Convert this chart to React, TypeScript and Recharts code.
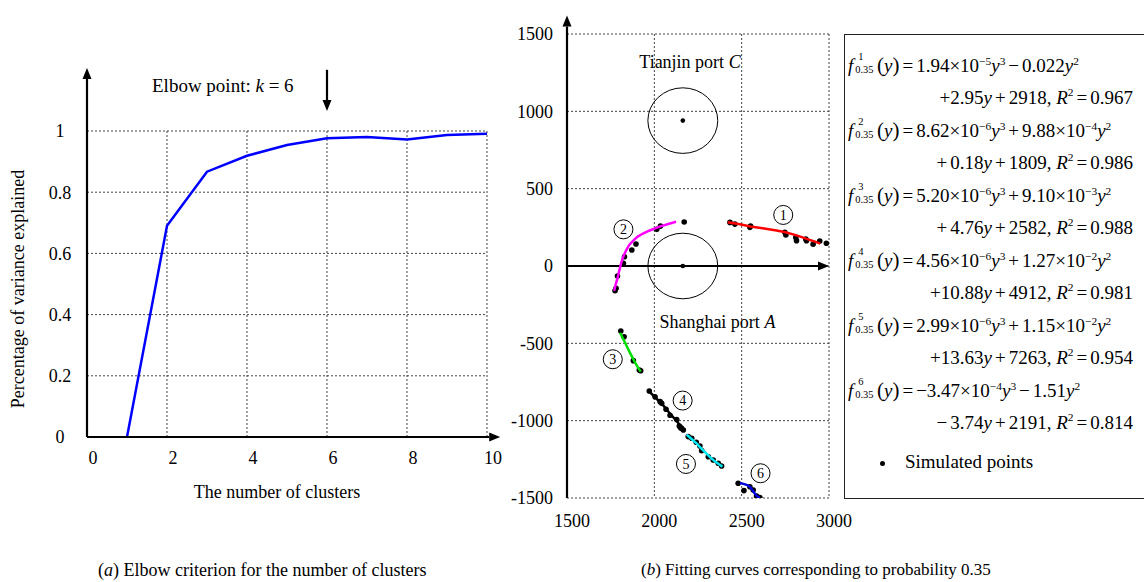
import React from 'react';
import {
  CartesianGrid,
  ComposedChart,
  Line,
  ReferenceLine,
  Scatter,
  XAxis,
  YAxis,
} from 'recharts';

const FONT = '"Liberation Serif", "Times New Roman", serif';

/* ---------- (a) elbow data ---------- */
const clusterCounts = [1, 2, 3, 4, 5, 6, 7, 8, 9, 10];
const varianceExplained = [0, 0.69, 0.867, 0.919, 0.954, 0.976, 0.98, 0.972, 0.987, 0.991];
const elbowTicksX = [0, 2, 4, 6, 8, 10];
const elbowTicksY = [0, 0.2, 0.4, 0.6, 0.8, 1];

/* ---------- (b) fitting data ---------- */
const fitTicksX = [1500, 2000, 2500, 3000];
const fitTicksY = [-1500, -1000, -500, 0, 500, 1000, 1500];

const portX = [2163, 2163];
const portY = [940, 0];
const portNames = ['Tianjin port ', 'Shanghai port '];
const portLetters = ['C', 'A'];
const portLabelX = [2204, 2361];
const portLabelY = [1321, -360];

const points1 = [[2433, 282], [2461, 271], [2547, 250], [2551, 259], [2747, 218], [2753, 200], [2810, 185], [2814, 164], [2867, 175], [2871, 164], [2909, 141], [2947, 162], [2985, 147]];
const points2 = [[2171, 284], [2035, 258], [2014, 237], [1895, 142], [1871, 103], [1829, 60], [1823, 17], [1789, -65], [1781, -144], [1775, -160]];
const points3 = [[1808, -420], [1827, -457], [1880, -612], [1914, -672], [1922, -677]];
const points4 = [[1971, -808], [2004, -845], [2033, -877], [2042, -888], [2067, -926], [2090, -965], [2128, -992], [2143, -1034], [2150, -1045], [2156, -1049], [2166, -1060]];
const points5 = [[2194, -1103], [2214, -1114], [2240, -1140], [2261, -1164], [2271, -1194], [2309, -1233], [2337, -1254], [2366, -1275], [2385, -1293]];
const points6 = [[2480, -1405], [2513, -1452], [2547, -1427], [2566, -1448], [2585, -1487], [2604, -1497]];

const curve1 = [[2420, 283], [2490, 270], [2550, 256], [2620, 244], [2700, 230], [2750, 218], [2800, 203], [2840, 188], [2880, 172], [2920, 158], [2950, 145]];
const curve2 = [[1770, -160], [1780, -115], [1790, -75], [1798, -35], [1806, 0], [1815, 38], [1825, 68], [1838, 100], [1855, 135], [1878, 163], [1905, 190], [1935, 210], [1970, 228], [2030, 255], [2080, 272], [2124, 286]];
const curve3 = [[1804, -431], [1816, -460], [1830, -490], [1845, -525], [1860, -560], [1875, -592], [1890, -625], [1906, -655], [1922, -683]];
const curve4 = [[1970, -810], [2010, -855], [2050, -900], [2090, -955], [2130, -1005], [2165, -1055]];
const curve5 = [[2185, -1090], [2210, -1115], [2240, -1145], [2270, -1180], [2300, -1215], [2325, -1242], [2350, -1265], [2370, -1282], [2390, -1297]];
const curve6 = [[2490, -1405], [2505, -1407], [2520, -1412], [2535, -1418], [2545, -1425], [2555, -1438], [2565, -1455], [2575, -1471], [2585, -1485], [2595, -1493], [2604, -1498]];
const curveColors = ['#ff0000', '#ff00ff', '#00dd00', '#000000', '#00e8f0', '#0000dd'];

const clusterLabels = ['1', '2', '3', '4', '5', '6'];
const clusterLabelX = [2738, 1823, 1762, 2162, 2181, 2608];
const clusterLabelY = [330, 237, -603, -870, -1280, -1340];

const toXY = (pts: number[][]) => pts.map(([x, y]) => ({ x, y }));
const elbowData = clusterCounts.map((k, i) => ({ k, v: varianceExplained[i] }));
const simulated = [points1, points2, points3, points4, points5, points6].flatMap(toXY);
const curves = [curve1, curve2, curve3, curve4, curve5, curve6].map(toXY);
const ports = portX.map((x, i) => ({ x, y: portY[i] }));
const portLabels = portLabelX.map((x, i) => ({ x, y: portLabelY[i], name: portNames[i], letter: portLetters[i] }));
const numberMarks = clusterLabelX.map((x, i) => ({ x, y: clusterLabelY[i], label: clusterLabels[i] }));

/* plot geometry of (b), used to turn data radii into pixels */
const FIT_PLOT_W = 262;
const FIT_PLOT_H = 464;
const PORT_RX = (200 * FIT_PLOT_W) / 1500;
const PORT_RY = (212 * FIT_PLOT_H) / 3000;

/* ---------- shapes ---------- */
function ArrowLine(props: any) {
  const { x1, y1, x2, y2 } = props;
  const ang = Math.atan2(y2 - y1, x2 - x1);
  const len = 11;
  const half = 4.5;
  const bx = x2 - len * Math.cos(ang);
  const by = y2 - len * Math.sin(ang);
  const px = -Math.sin(ang) * half;
  const py = Math.cos(ang) * half;
  return (
    <g>
      <line x1={x1} y1={y1} x2={bx} y2={by} stroke="#000" strokeWidth={2.2} />
      <polygon points={`${x2},${y2} ${bx + px},${by + py} ${bx - px},${by - py}`} fill="#000" />
    </g>
  );
}

const tickText = { fontFamily: FONT, fontSize: 18, fill: '#000' };

function ElbowYTick({ x, y, payload }: any) {
  return (
    <text x={x - 27} y={y} dy="0.35em" textAnchor="middle" {...tickText}>
      {payload.value}
    </text>
  );
}
function ElbowXTick({ x, y, payload }: any) {
  return (
    <text x={x + 6} y={y + 27} textAnchor="middle" {...tickText}>
      {payload.value}
    </text>
  );
}
function FitYTick({ x, y, payload }: any) {
  return (
    <text x={x - 14} y={y} dy="0.35em" textAnchor="end" {...tickText}>
      {payload.value}
    </text>
  );
}
function FitXTick({ x, y, payload }: any) {
  return (
    <text x={x + 5} y={y + 29} textAnchor="middle" {...tickText}>
      {payload.value}
    </text>
  );
}

const Dot = ({ cx, cy }: any) => <circle cx={cx} cy={cy} r={2.8} fill="#000" />;
const NoMark = () => <g />;
const PortMark = ({ cx, cy }: any) => (
  <g>
    <ellipse cx={cx} cy={cy} rx={PORT_RX} ry={PORT_RY} fill="none" stroke="#000" strokeWidth={1} />
    <circle cx={cx} cy={cy} r={2.3} fill="#000" />
  </g>
);
const PortText = ({ cx, cy, payload }: any) => (
  <text x={cx} y={cy} dy="0.35em" textAnchor="middle" {...tickText}>
    {payload.name}
    <tspan fontStyle="italic">{payload.letter}</tspan>
  </text>
);
const NumberMark = ({ cx, cy, payload }: any) => (
  <g>
    <circle cx={cx} cy={cy} r={9.5} fill="#fff" stroke="#000" strokeWidth={1} />
    <text x={cx} y={cy} dy="0.35em" textAnchor="middle" fontFamily={FONT} fontSize={14} fill="#000">
      {payload.label}
    </text>
  </g>
);

/* ---------- formula helpers ---------- */
const Sup = ({ children }: any) => (
  <span style={{ fontSize: '0.6em', position: 'relative', top: '-0.65em' }}>{children}</span>
);
const I = ({ children }: any) => <i>{children}</i>;
const Op = ({ children }: any) => <span style={{ padding: '0 3px' }}>{children}</span>;
function FName({ k }: { k: string }) {
  const script: React.CSSProperties = { position: 'absolute', fontSize: '0.55em', lineHeight: 1 };
  return (
    <span>
      <I>f</I>
      <span style={{ position: 'relative', display: 'inline-block', width: '1.25em', height: '1em' }}>
        <span style={{ ...script, left: 5, top: '-0.1em' }}>{k}</span>
        <span style={{ ...script, left: 2, top: '1.15em' }}>0.35</span>
      </span>
      <span style={{ fontSize: '1.1em' }}>(</span>
      <I>y</I>
      <span style={{ fontSize: '1.1em' }}>)</span>
    </span>
  );
}

const formulaRows: React.ReactNode[] = [
  <><FName k="1" /><Op>=</Op>1.94×10<Sup>−5</Sup><I>y</I><Sup>3</Sup><Op>−</Op>0.022<I>y</I><Sup>2</Sup></>,
  <>+2.95<I>y</I><Op>+</Op>2918, <I>R</I><Sup>2</Sup><Op>=</Op>0.967</>,
  <><FName k="2" /><Op>=</Op>8.62×10<Sup>−6</Sup><I>y</I><Sup>3</Sup><Op>+</Op>9.88×10<Sup>−4</Sup><I>y</I><Sup>2</Sup></>,
  <><Op>+</Op>0.18<I>y</I><Op>+</Op>1809, <I>R</I><Sup>2</Sup><Op>=</Op>0.986</>,
  <><FName k="3" /><Op>=</Op>5.20×10<Sup>−6</Sup><I>y</I><Sup>3</Sup><Op>+</Op>9.10×10<Sup>−3</Sup><I>y</I><Sup>2</Sup></>,
  <><Op>+</Op>4.76<I>y</I><Op>+</Op>2582, <I>R</I><Sup>2</Sup><Op>=</Op>0.988</>,
  <><FName k="4" /><Op>=</Op>4.56×10<Sup>−6</Sup><I>y</I><Sup>3</Sup><Op>+</Op>1.27×10<Sup>−2</Sup><I>y</I><Sup>2</Sup></>,
  <>+10.88<I>y</I><Op>+</Op>4912, <I>R</I><Sup>2</Sup><Op>=</Op>0.981</>,
  <><FName k="5" /><Op>=</Op>2.99×10<Sup>−6</Sup><I>y</I><Sup>3</Sup><Op>+</Op>1.15×10<Sup>−2</Sup><I>y</I><Sup>2</Sup></>,
  <>+13.63<I>y</I><Op>+</Op>7263, <I>R</I><Sup>2</Sup><Op>=</Op>0.954</>,
  <><FName k="6" /><Op>=</Op>−3.47×10<Sup>−4</Sup><I>y</I><Sup>3</Sup><Op>−</Op>1.51<I>y</I><Sup>2</Sup></>,
  <><Op>−</Op>3.74<I>y</I><Op>+</Op>2191, <I>R</I><Sup>2</Sup><Op>=</Op>0.814</>,
];

const abs = (left: number, top: number, extra: React.CSSProperties = {}): React.CSSProperties => ({
  position: 'absolute',
  left,
  top,
  fontFamily: FONT,
  fontSize: 18,
  color: '#000',
  whiteSpace: 'nowrap',
  ...extra,
});

function ElbowChart() {
  return (
    <div style={{ position: 'absolute', left: 0, top: 0 }}>
      <ComposedChart width={520} height={480} data={elbowData} margin={{ top: 131, right: 33, bottom: 13, left: 47 }}>
        <CartesianGrid stroke="#444" strokeDasharray="2 2" strokeWidth={1} />
        <XAxis type="number" dataKey="k" domain={[0, 10]} ticks={elbowTicksX} axisLine={false} tickLine={false} tickSize={0} tickMargin={0} height={30} tick={<ElbowXTick />} />
        <YAxis type="number" domain={[0, 1]} ticks={elbowTicksY} axisLine={false} tickLine={false} tickSize={0} tickMargin={0} width={40} tick={<ElbowYTick />} />
        <Line dataKey="v" type="linear" stroke="#0000ff" strokeWidth={2.5} dot={false} isAnimationActive={false} />
        <ReferenceLine segment={[{ x: 0, y: 0 }, { x: 10.33, y: 0 }]} ifOverflow="visible" shape={ArrowLine} />
        <ReferenceLine segment={[{ x: 0, y: 0 }, { x: 0, y: 1.206 }]} ifOverflow="visible" shape={ArrowLine} />
        <ReferenceLine segment={[{ x: 6, y: 1.2 }, { x: 6, y: 1.065 }]} ifOverflow="visible" shape={ArrowLine} />
      </ComposedChart>
    </div>
  );
}

function FittingChart() {
  return (
    <div style={{ position: 'absolute', left: 480, top: 0 }}>
      <ComposedChart width={380} height={540} margin={{ top: 34, right: 31, bottom: 12, left: 37 }}>
        <CartesianGrid stroke="#444" strokeDasharray="2 2" strokeWidth={1} />
        <XAxis type="number" dataKey="x" domain={[1500, 3000]} ticks={fitTicksX} allowDataOverflow axisLine={false} tickLine={false} tickSize={0} tickMargin={0} height={30} tick={<FitXTick />} />
        <YAxis type="number" dataKey="y" domain={[-1500, 1500]} ticks={fitTicksY} allowDataOverflow axisLine={false} tickLine={false} tickSize={0} tickMargin={0} width={50} tick={<FitYTick />} />
        <ReferenceLine segment={[{ x: 1500, y: 0 }, { x: 3000, y: 0 }]} ifOverflow="visible" shape={ArrowLine} />
        <ReferenceLine segment={[{ x: 1500, y: -1500 }, { x: 1500, y: 1620 }]} ifOverflow="visible" shape={ArrowLine} />
        <Scatter data={ports} shape={PortMark} isAnimationActive={false} />
        <Scatter data={portLabels} shape={PortText} isAnimationActive={false} />
        <Scatter data={simulated} shape={Dot} isAnimationActive={false} />
        {curves.map((c, i) => (
          <Scatter
            key={i}
            data={c}
            shape={NoMark}
            line={{ stroke: curveColors[i], strokeWidth: 2.5, fill: 'none' }}
            lineType="joint"
            isAnimationActive={false}
          />
        ))}
        <Scatter data={numberMarks} shape={NumberMark} isAnimationActive={false} />
      </ComposedChart>
    </div>
  );
}

export default function App() {
  return (
    <div style={{ position: 'absolute', left: 0, top: 0, width: 1144, height: 582, overflow: 'hidden', background: '#fff' }}>
      <ElbowChart />
      <FittingChart />

      <div style={abs(18, 289, { transform: 'translate(-50%, -50%) rotate(-90deg)' })}>Percentage of variance explained</div>
      <div style={abs(277, 492, { transform: 'translate(-50%, -50%)' })}>The number of clusters</div>
      <div style={abs(152, 86, { fontSize: 19, transform: 'translateY(-50%)' })}>
        Elbow point: <I>k</I> = 6
      </div>

      <div style={{ position: 'absolute', left: 844, top: 34, width: 320, height: 463, border: '1.3px solid #222' }} />
      {formulaRows.map((row, i) =>
        i % 2 === 0 ? (
          <div key={i} style={abs(848, 65 + i * 32.5, { fontSize: 19, transform: 'translateY(-50%)' })}>{row}</div>
        ) : (
          <div key={i} style={abs(1133, 65 + i * 32.5, { fontSize: 19, transform: 'translate(-100%, -50%)' })}>{row}</div>
        )
      )}
      <div style={abs(880, 462, { fontSize: 19, transform: 'translateY(-50%)' })}>
        <span style={{ display: 'inline-block', width: 5, height: 5, borderRadius: 3, background: '#000', verticalAlign: 'middle', marginRight: 20 }} />
        Simulated points
      </div>

      <div style={abs(98, 570, { fontSize: 18, transform: 'translateY(-50%)' })}>
        (<I>a</I>) Elbow criterion for the number of clusters
      </div>
      <div style={abs(641, 570, { fontSize: 17, transform: 'translateY(-50%)' })}>
        (<I>b</I>) Fitting curves corresponding to probability 0.35
      </div>
    </div>
  );
}
